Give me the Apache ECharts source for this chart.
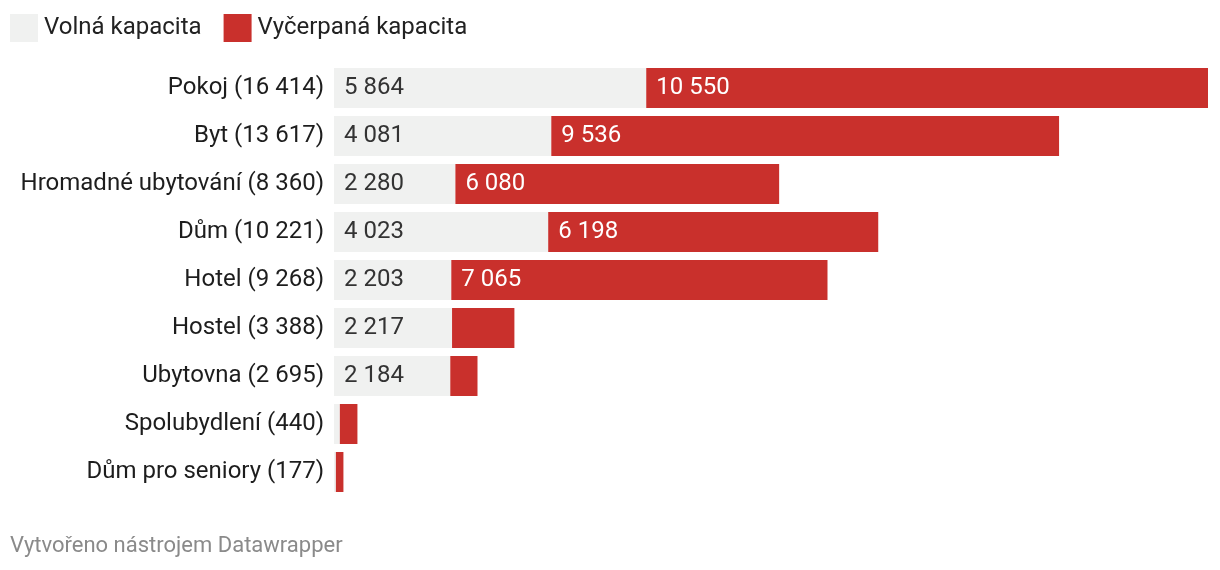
<!DOCTYPE html>
<html><head><meta charset="utf-8">
<script src="https://cdn.jsdelivr.net/npm/echarts@6/dist/echarts.min.js"></script>
<style>html,body{margin:0;padding:0;background:#fff}#c{width:1220px;height:570px}</style>
</head><body><div id="c"></div>
<script>
const categories = ["Pokoj","Byt","Hromadné ubytování","Dům","Hotel","Hostel","Ubytovna","Spolubydlení","Dům pro seniory"];
const totals = [16414,13617,8360,10221,9268,3388,2695,440,177];
const volna = [5864,4081,2280,4023,2203,2217,2184,110,35];
const vycerpana = [10550,9536,6080,6198,7065,1171,511,330,142];
const seriesNames = ["Volná kapacita","Vyčerpaná kapacita"];

const fmt = v => String(v).replace(/\B(?=(\d{3})+(?!\d))/g, " ");
const yLabels = categories.map((c,i) => c + " (" + fmt(totals[i]) + ")");
const mk = (arr, color) => arr.map(v => ({value: v, label: {show: v >= 1500, color: color}}));

const chart = echarts.init(document.getElementById('c'));
chart.setOption({
  animation: false,
  textStyle: {fontFamily: 'Roboto'},
  legend: {
    left: 5, top: 9, itemWidth: 28, itemHeight: 28, icon: 'rect', itemGap: 22,
    textStyle: {fontSize: 24, color: '#222', fontFamily: 'Roboto', padding: [0,0,0,1]},
    data: seriesNames
  },
  graphic: [{type: 'text', left: 10, top: 535, style: {text: 'Vytvořeno nástrojem Datawrapper', fontSize: 22, fill: '#8a8a8a', fontFamily: 'Roboto'}}],
  grid: {left: 334, right: 12, top: 64, bottom: 74, containLabel: false},
  xAxis: {type: 'value', min: 0, max: 16414, show: false},
  yAxis: {
    type: 'category', inverse: true, data: yLabels,
    axisLine: {show: false}, axisTick: {show: false},
    axisLabel: {fontSize: 24, color: '#1d1d1d', margin: 10, padding: [4,0,0,0], fontFamily: 'Roboto'}
  },
  series: [
    {name: seriesNames[0], type: 'bar', stack: 's', barCategoryGap: '16.7%', data: mk(volna, '#333'),
     itemStyle: {color: '#f0f1f0'},
     label: {position: 'insideLeft', distance: 10, padding: [4,0,0,0], fontSize: 24, fontFamily: 'Roboto', formatter: p => fmt(p.value)}},
    {name: seriesNames[1], type: 'bar', stack: 's', data: mk(vycerpana, '#fff'),
     itemStyle: {color: '#c9302c'},
     label: {position: 'insideLeft', distance: 10, padding: [4,0,0,0], fontSize: 24, fontFamily: 'Roboto', formatter: p => fmt(p.value)}}
  ]
});
</script></body></html>
